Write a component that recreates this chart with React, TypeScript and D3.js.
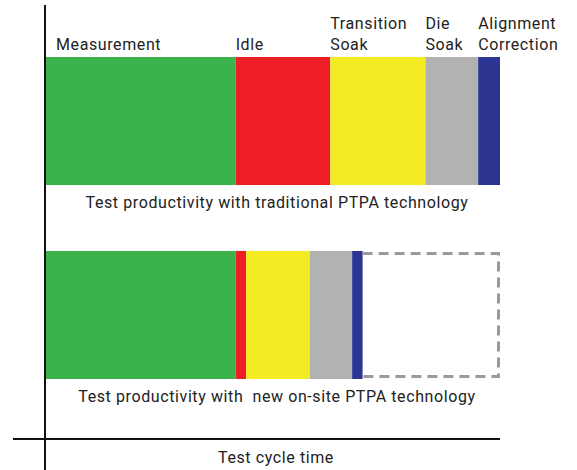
import React from "react";
import * as d3 from "d3";

// Time spent on each activity, as share of the traditional cycle (=100)
const categories = ["Measurement", "Idle", "Transition Soak", "Die Soak", "Alignment Correction"];
const categoryLines = [["Measurement"], ["Idle"], ["Transition", "Soak"], ["Die", "Soak"], ["Alignment", "Correction"]];
const colors = ["#3bb34a", "#ed1f24", "#f4ec22", "#b2b2b2", "#2c3591"];
const rows = ["traditional", "new"];
const rowLabels = ["Test productivity with traditional PTPA technology", "Test productivity with  new on-site PTPA technology"];
const traditionalValues = [41.9, 20.8, 20.9, 11.6, 4.8];
const newValues = [41.9, 2.3, 14.0, 9.3, 2.3];
const axisLabel = "Test cycle time";

const W = 577;
const H = 470;
const FONT = "Roboto, 'DejaVu Sans', sans-serif";
const textStyle = { whiteSpace: "pre" as const, letterSpacing: "0.6px" };

export default function App() {
  const x = d3.scaleLinear().domain([0, 100]).range([45, 500]);
  const y = d3.scaleBand().domain(rows).range([57, 379]).paddingInner(0.34).paddingOuter(0);

  const series = [traditionalValues, newValues];
  const stacks = series.map((vals) => {
    let acc = 0;
    return vals.map((v, i) => {
      const s = { x0: acc, x1: acc + v, color: colors[i], key: categories[i] };
      acc += v;
      return s;
    });
  });

  const newTotal = d3.sum(newValues);
  const bw = y.bandwidth();
  const yNew = y("new") as number;

  // open-left dashed outline of the time saved
  const saved = d3.path();
  saved.moveTo(x(newTotal), yNew + 2.5);
  saved.lineTo(x(100) - 1.5, yNew + 2.5);
  saved.lineTo(x(100) - 1.5, yNew + bw - 2.5);
  saved.lineTo(x(newTotal), yNew + bw - 2.5);

  return (
    <svg width={W} height={H} style={{ position: "absolute", left: 0, top: 0 }} fontFamily={FONT}>
      <rect width={W} height={H} fill="#fff" />
      {/* category labels above the top bar */}
      {categoryLines.map((lines, i) => {
        const x0 = x(stacks[0][i].x0) + (i === 0 ? 11 : 0);
        return (
          <text key={categories[i]} x={x0} y={50 - (lines.length - 1) * 21} fontSize={16} fill="#222" style={textStyle}>
            {lines.map((l, j) => (
              <tspan key={j} x={x0} dy={j === 0 ? 0 : 21}>{l}</tspan>
            ))}
          </text>
        );
      })}
      {rows.map((r, ri) => (
        <g key={r}>
          {stacks[ri].map((s) => (
            <rect key={s.key} x={x(s.x0)} y={y(r)} width={x(s.x1) - x(s.x0)} height={bw} fill={s.color} />
          ))}
          <text x={277} y={(y(r) as number) + bw + 23} textAnchor="middle" fontSize={16} fill="#222" style={textStyle}>
            {rowLabels[ri]}
          </text>
        </g>
      ))}
      <path d={saved.toString()} fill="none" stroke="#9a9a9a" strokeWidth={3} strokeDasharray="10 6" />
      <line x1={45} x2={45} y1={5} y2={H} stroke="#111" strokeWidth={2} />
      <line x1={13} x2={x(100)} y1={439} y2={439} stroke="#111" strokeWidth={2} />
      <text x={276} y={463} textAnchor="middle" fontSize={16} fill="#222" style={textStyle}>{axisLabel}</text>
    </svg>
  );
}
